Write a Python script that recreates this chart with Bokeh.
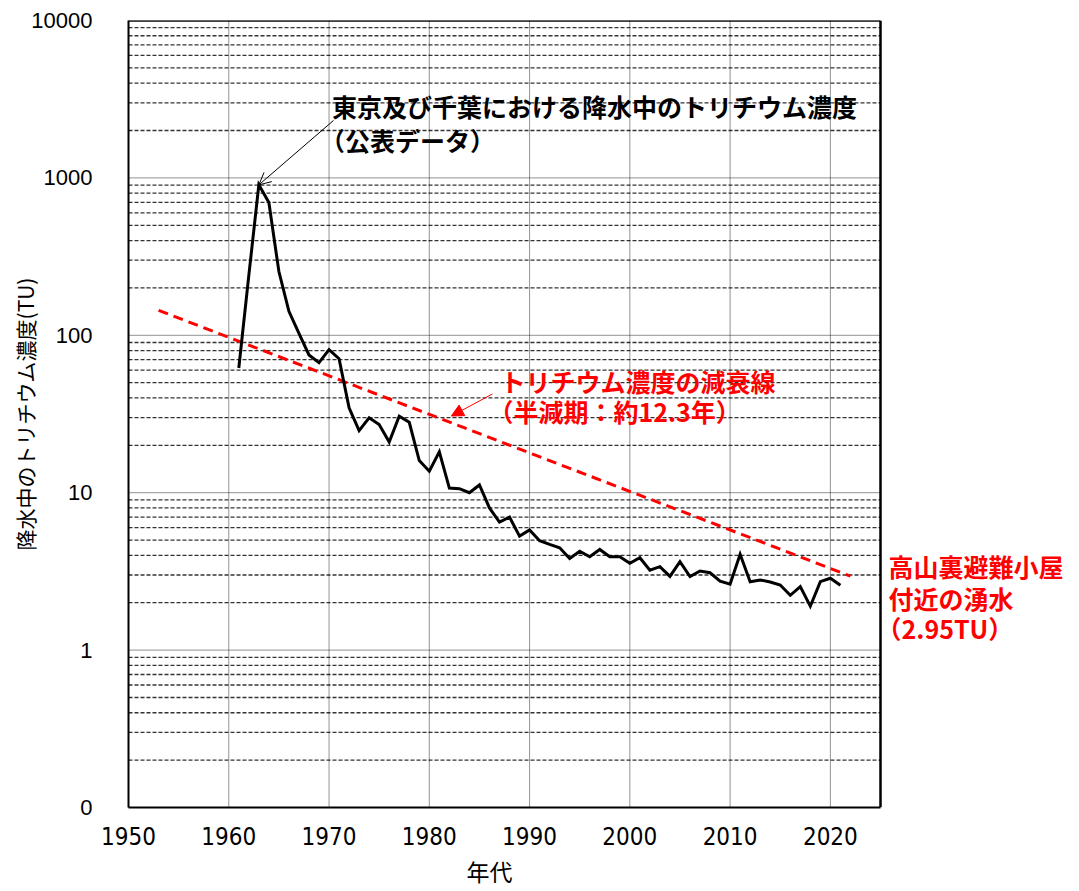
from bokeh.plotting import figure
from bokeh.models import (FixedTicker, Label, Arrow, OpenHead, NormalHead,
                          CustomJSTickFormatter, Title)
from bokeh.embed import file_html
from bokeh.resources import INLINE

# Annual tritium concentration in precipitation, Tokyo / Chiba (TU)
years = list(range(1961, 2022))
tritium_tu = [62, 240, 903, 697, 254, 142, 103, 75, 67, 81,
              71, 34.6, 24.8, 29.9, 27.1, 21.0, 30.6, 28.0, 16.0, 13.7,
              18.2, 10.7, 10.6, 10.0, 11.2, 8.0, 6.5, 7.0, 5.3, 5.8,
              4.95, 4.69, 4.47, 3.82, 4.25, 3.92, 4.36, 3.92, 3.92, 3.56,
              3.86, 3.22, 3.39, 2.94, 3.65, 2.93, 3.18, 3.10, 2.74, 2.62,
              4.06, 2.72, 2.79, 2.71, 2.59, 2.23, 2.53, 1.90, 2.72, 2.86,
              2.58]

# Decay line anchored on the spring water value (half-life 12.3 years)
spring_tu = 2.95
spring_year = 2022
half_life = 12.3
decay_years = [1953, 2022]
decay_tu = [spring_tu * 2 ** ((spring_year - y) / half_life) for y in decay_years]

x_min, x_max = 1950, 2025
y_min, y_max = 0.1, 10000
x_ticks = [1950, 1960, 1970, 1980, 1990, 2000, 2010, 2020]
y_ticks = [0.1, 1, 10, 100, 1000, 10000]
y_tick_labels = ["0", "1", "10", "100", "1000", "10000"]
y_minor = [m * d for d in [0.1, 1, 10, 100, 1000] for m in range(2, 10)]

JP = "Noto Sans CJK JP"
RED = "#ff0000"

# The visible x range runs past x_max so the side note to the right of the
# plot box can sit inside the frame; the box itself stops at x_max.
x_view_end = x_min + (1079 - 128) * (x_max - x_min) / 752

p = figure(width=1079, height=891, y_axis_type="log",
           x_range=(x_min, x_view_end), y_range=(y_min, y_max),
           output_backend="svg", toolbar_location=None,
           min_border_left=128, min_border_right=0,
           min_border_top=20, min_border_bottom=83)
p.background_fill_color = "white"
p.border_fill_color = "white"
p.outline_line_color = None
p.xgrid.visible = False
p.ygrid.visible = False

# axes
p.xaxis.ticker = FixedTicker(ticks=x_ticks)
p.xaxis.bounds = (x_min, x_max)
p.yaxis.ticker = FixedTicker(ticks=y_ticks)
p.yaxis.formatter = CustomJSTickFormatter(
    args=dict(tick_vals=y_ticks, tick_texts=y_tick_labels),
    code="""
    for (let i = 0; i < tick_vals.length; i++) {
        if (Math.abs(Math.log10(tick_vals[i]) - Math.log10(tick)) < 1e-6) return tick_texts[i];
    }
    return "";
    """)
for ax in (p.xaxis[0], p.yaxis[0]):
    ax.axis_line_color = "black"
    ax.axis_line_width = 2
    ax.major_tick_line_color = None
    ax.minor_tick_line_color = None
    ax.major_label_text_color = "black"
    ax.axis_label_text_color = "black"
    ax.axis_label_text_font_style = "normal"

p.yaxis.major_label_text_font = "Liberation Sans"
p.yaxis.major_label_text_font_size = "22px"
p.yaxis.major_label_standoff = 30
p.yaxis.axis_label = "降水中のトリチウム濃度(TU)"
p.yaxis.axis_label_text_font = JP
p.yaxis.axis_label_text_font_size = "21px"
p.yaxis.axis_label_standoff = -12

p.xaxis.major_label_text_font = "DejaVu Sans Condensed, Liberation Sans Narrow, Liberation Sans"
p.xaxis.major_label_text_font_size = "24px"
p.xaxis.major_label_standoff = 13

# x axis title, centred under the plot box rather than the wider frame
p.add_layout(Title(text="年代", align="left", offset=338,
                   text_font=JP, text_font_size="23px", text_font_style="normal",
                   text_color="black", standoff=8), "below")

# grid lines inside the plot box
p.segment(x0=x_min, y0=y_minor, x1=x_max, y1=y_minor,
          line_color="#333333", line_width=1.3, line_dash="4 2")
p.segment(x0=x_min, y0=y_ticks, x1=x_max, y1=y_ticks,
          line_color="black", line_width=1, line_dash="1 1", line_alpha=0.85)
p.segment(x0=x_ticks[1:], y0=y_min, x1=x_ticks[1:], y1=y_max,
          line_color="black", line_width=1, line_dash="1 1", line_alpha=0.85)

# data
p.line(decay_years, decay_tu, line_color=RED, line_width=3, line_dash="10 6")
p.line(years, tritium_tu, line_color="black", line_width=3, line_join="miter")

# box border (top and right; left and bottom are the axis lines)
p.segment(x0=[x_min, x_max], y0=[y_max, y_min], x1=[x_max, x_max], y1=[y_max, y_max],
          line_color="black", line_width=2.5)

# annotations
def note(x, y, text, color, dx=0):
    p.add_layout(Label(x=x, y=y, text=text, x_offset=dx,
                       text_font=JP, text_font_size="25px", text_font_style="bold",
                       text_color=color, text_baseline="middle", text_align="left"))

p.add_layout(Arrow(end=OpenHead(size=12, line_color="black", line_width=1),
                   x_start=1970.45, y_start=2318,
                   x_end=years[2], y_end=tritium_tu[2],
                   line_color="black", line_width=1))
note(1970.3, 2846, "東京及び千葉における降水中のトリチウム濃度", "black")
note(1970.3, 1734, "（公表データ）", "black", dx=-12)

p.add_layout(Arrow(end=NormalHead(size=12, fill_color=RED, line_color=RED),
                   x_start=1986.3, y_start=42.4, x_end=1982.2, y_end=30.7,
                   line_color=RED, line_width=1))
note(1987.1, 51.2, "トリチウム濃度の減衰線", RED)
note(1987.1, 33.0, "（半減期：約12.3年）", RED, dx=-12)

note(2025.8, 3.43, "高山裏避難小屋", RED)
note(2025.8, 2.15, "付近の湧水", RED)
note(2025.8, 1.387, f"（{spring_tu}TU）", RED, dx=-12)

open("out.html", "w").write(file_html(p, INLINE))
